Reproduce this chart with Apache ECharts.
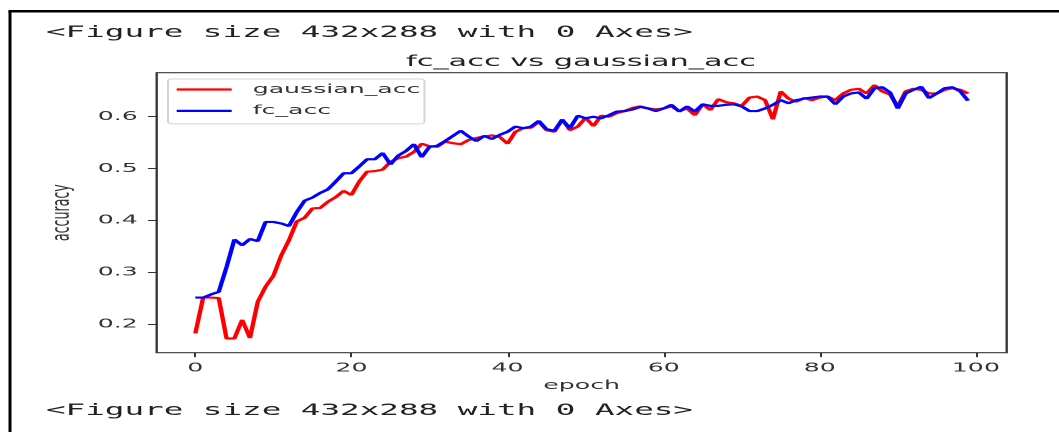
<!DOCTYPE html>
<html>
<head>
<meta charset="utf-8">
<script src="https://cdn.jsdelivr.net/npm/echarts@6/dist/echarts.min.js"></script>
<style>
  html, body { margin: 0; padding: 0; background: #fff; overflow: hidden; width: 1059px; height: 432px; }
  /* the notebook output cell is drawn at half width and stretched horizontally */
  #chart { position: absolute; left: 0; top: 0; width: 529.5px; height: 432px; transform: scaleX(2); transform-origin: 0 0; }
</style>
</head>
<body>
<div id="chart"></div>
<script>
// training epochs 0..99
const epochs = Array.from({ length: 100 }, (_, i) => i);

// validation accuracy per epoch, gaussian-initialised network
const gaussianAcc = [
  0.182, 0.251, 0.251, 0.250, 0.172, 0.172, 0.208, 0.173, 0.243, 0.272,
  0.293, 0.332, 0.362, 0.398, 0.405, 0.423, 0.424, 0.436, 0.445, 0.457,
  0.449, 0.475, 0.494, 0.495, 0.498, 0.513, 0.520, 0.523, 0.532, 0.548,
  0.543, 0.542, 0.552, 0.549, 0.547, 0.555, 0.559, 0.562, 0.564, 0.561,
  0.548, 0.571, 0.578, 0.579, 0.590, 0.574, 0.571, 0.595, 0.574, 0.581,
  0.598, 0.582, 0.602, 0.600, 0.607, 0.611, 0.617, 0.620, 0.616, 0.614,
  0.616, 0.620, 0.611, 0.616, 0.603, 0.624, 0.613, 0.634, 0.628, 0.626,
  0.621, 0.637, 0.639, 0.632, 0.595, 0.649, 0.635, 0.629, 0.636, 0.632,
  0.637, 0.639, 0.632, 0.645, 0.652, 0.654, 0.645, 0.661, 0.649, 0.643,
  0.620, 0.649, 0.654, 0.652, 0.645, 0.645, 0.652, 0.655, 0.652, 0.645
];

// validation accuracy per epoch, fully-connected network
const fcAcc = [
  0.251, 0.251, 0.257, 0.262, 0.310, 0.363, 0.352, 0.364, 0.360, 0.397,
  0.397, 0.394, 0.389, 0.416, 0.438, 0.444, 0.453, 0.460, 0.475, 0.491,
  0.491, 0.504, 0.518, 0.518, 0.530, 0.508, 0.525, 0.534, 0.547, 0.522,
  0.542, 0.544, 0.553, 0.563, 0.573, 0.562, 0.553, 0.563, 0.557, 0.565,
  0.571, 0.581, 0.578, 0.581, 0.592, 0.576, 0.573, 0.594, 0.578, 0.602,
  0.597, 0.600, 0.597, 0.603, 0.610, 0.611, 0.614, 0.619, 0.616, 0.611,
  0.616, 0.623, 0.610, 0.620, 0.610, 0.624, 0.621, 0.621, 0.623, 0.624,
  0.620, 0.611, 0.611, 0.616, 0.623, 0.632, 0.626, 0.632, 0.635, 0.637,
  0.639, 0.639, 0.624, 0.639, 0.645, 0.647, 0.635, 0.655, 0.657, 0.647,
  0.616, 0.645, 0.652, 0.658, 0.636, 0.645, 0.655, 0.657, 0.649, 0.631
];

const xTicks = [0, 20, 40, 60, 80, 100];
const yTicks = [0.2, 0.3, 0.4, 0.5, 0.6];
const figureNote = '<Figure size 432x288 with 0 Axes>';

const FONT = 'DejaVu Sans';
const MONO = 'DejaVu Sans Mono';
const TEXT = '#333';

const chart = echarts.init(document.getElementById('chart'), null, { renderer: 'canvas', devicePixelRatio: 2 });

chart.setOption({
  animation: false,
  backgroundColor: '#fff',
  title: {
    text: 'fc_acc vs gaussian_acc',
    left: 285.5,
    top: 49.5,
    textAlign: 'center',
    textStyle: { fontFamily: FONT, fontSize: 15.2, fontWeight: 'normal', color: '#222' }
  },
  legend: {
    data: ['gaussian_acc', 'fc_acc'],
    orient: 'vertical',
    left: 84,
    top: 79,
    icon: 'rect',
    itemWidth: 27.5,
    itemHeight: 2.2,
    itemGap: 7.4,
    padding: [3.5, 2, 6, 4.35],
    backgroundColor: '#fff',
    borderColor: '#d4d4d4',
    borderWidth: 1,
    borderRadius: 2,
    textStyle: { fontFamily: FONT, fontSize: 12.6, lineHeight: 14, color: TEXT, padding: [0, 0, 0, 5.5] }
  },
  grid: {
    left: 78.35, top: 72.7, width: 425, height: 280,
    show: true, borderColor: '#3a3a3a', borderWidth: 1.2, backgroundColor: '#fff',
    containLabel: false, outerBoundsMode: 'none'
  },
  xAxis: {
    type: 'value',
    min: -4.95,
    max: 103.95,
    name: 'epoch',
    nameLocation: 'middle',
    nameGap: 24.5,
    nameTextStyle: { fontFamily: FONT, fontSize: 12.6, color: TEXT },
    axisLine: { show: false, onZero: false },
    splitLine: { show: false },
    axisTick: { show: true, length: 4.4, customValues: xTicks, lineStyle: { color: '#333', width: 1 } },
    axisLabel: { customValues: xTicks, margin: 8.8, fontFamily: FONT, fontSize: 12.6, color: TEXT }
  },
  yAxis: {
    type: 'value',
    min: 0.1446,
    max: 0.685,
    name: 'accuracy',
    nameLocation: 'middle',
    nameGap: 27,
    nameTextStyle: { fontFamily: FONT, fontSize: 12.6, color: TEXT },
    axisLine: { show: false, onZero: false },
    splitLine: { show: false },
    axisTick: { show: true, length: 4.4, customValues: yTicks, lineStyle: { color: '#333', width: 1 } },
    axisLabel: {
      customValues: yTicks, margin: 9.5, fontFamily: FONT, fontSize: 12.6, color: TEXT,
      formatter: v => v.toFixed(1)
    }
  },
  series: [
    {
      name: 'gaussian_acc',
      type: 'line',
      data: epochs.map((e, i) => [e, gaussianAcc[i]]),
      symbol: 'none',
      showSymbol: false,
      lineStyle: { color: '#ff0000', width: 2.2 },
      itemStyle: { color: '#ff0000' }
    },
    {
      name: 'fc_acc',
      type: 'line',
      data: epochs.map((e, i) => [e, fcAcc[i]]),
      symbol: 'none',
      showSymbol: false,
      lineStyle: { color: '#0000ff', width: 2.2 },
      itemStyle: { color: '#0000ff' }
    }
  ],
  graphic: [
    // output cell frame: left and top rules
    { type: 'line', silent: true, shape: { x1: 5, y1: 11.3, x2: 5, y2: 432 }, style: { stroke: '#000', lineWidth: 1.5 } },
    { type: 'line', silent: true, shape: { x1: 4.25, y1: 11.3, x2: 529.5, y2: 11.3 }, style: { stroke: '#000', lineWidth: 2.5 } },
    // stdout lines printed around the figure
    { type: 'text', silent: true, x: 23, y: 33, style: { text: figureNote, font: '16.3px ' + MONO, fill: '#222', verticalAlign: 'middle' } },
    { type: 'text', silent: true, x: 23, y: 411, style: { text: figureNote, font: '16.3px ' + MONO, fill: '#222', verticalAlign: 'middle' } }
  ]
});
</script>
</body>
</html>
